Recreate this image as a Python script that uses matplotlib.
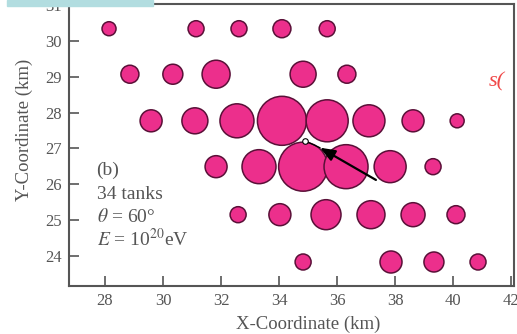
import matplotlib.pyplot as plt
from matplotlib.patches import Rectangle

# tank positions (km), grouped by row, and signal (relative circle size)
x_km = [28.14, 31.14, 32.62, 34.10, 35.66,
        28.86, 30.34, 31.83, 34.83, 36.34,
        29.59, 31.10, 32.55, 34.10, 35.66, 37.10, 38.62, 40.14,
        31.83, 33.31, 34.83, 36.31, 37.83, 39.31,
        32.59, 34.03, 35.62, 37.17, 38.62, 40.10,
        34.83, 37.86, 39.34, 40.86]
y_km = [30.34] * 5 + [29.07] * 5 + [27.77] * 8 + [26.49] * 6 + [25.15] * 6 + [23.83] * 4
signal = [7, 8, 8, 9, 8,
          9, 10, 14, 13, 9,
          11, 13, 17, 24.5, 21, 16, 11, 7,
          11, 17, 24.5, 22, 16, 8,
          8, 11, 15, 14, 12, 9,
          8, 11, 10, 8]

core = (34.90, 27.21)
arrow_tail = (37.34, 26.12)
arrow_tip = (35.41, 27.02)

xticks = [28, 30, 32, 34, 36, 38, 40, 42]
yticks = [24, 25, 26, 27, 28, 29, 30, 31]

plt.rcParams['font.family'] = ['Liberation Serif', 'DejaVu Serif']
plt.rcParams['mathtext.fontset'] = 'stix'
gray = '#555555'

fig = plt.figure(figsize=(5.17, 3.34), dpi=100)
ax = fig.add_axes([69 / 517, 1 - 286 / 334, 445 / 517, 282 / 334])

sizes = [(1.44 * s) ** 2 for s in signal]
ax.scatter(x_km, y_km, s=sizes, c='#ec2f8c', edgecolors='#5a1038', linewidths=1.1, zorder=2)

ax.annotate('', xy=arrow_tip, xytext=arrow_tail,
            arrowprops=dict(arrowstyle='-|>,head_length=0.9,head_width=0.35',
                            color='black', lw=1.6, shrinkA=0, shrinkB=0), zorder=4)
ax.plot([arrow_tip[0], core[0]], [arrow_tip[1], core[1]], color='black', lw=0.9, zorder=4)
ax.plot(*core, marker='o', ms=4, mfc='white', mec='black', mew=0.8, zorder=5)

ax.set_xlim(26.76, 42.10)
ax.set_ylim(23.16, 31.03)
ax.set_xticks(xticks)
ax.set_yticks(yticks)
ax.tick_params(direction='in', length=7, width=1.2, colors=gray, labelsize=12, pad=5)
for sp in ax.spines.values():
    sp.set_color(gray)
    sp.set_linewidth(1.5)

ax.set_xlabel('X-Coordinate (km)', fontsize=13.5, color=gray, labelpad=2)
ax.set_ylabel('Y-Coordinate (km)', fontsize=13.5, color=gray, labelpad=9)
ax.xaxis.set_label_coords(0.537, -0.105)
ax.yaxis.label.set_y(0.553)

txt = dict(transform=ax.transAxes, fontsize=14, color=gray, va='baseline', ha='left')
ax.text(0.062, 0.394, '(b)', **txt)
ax.text(0.062, 0.309, '34 tanks', **txt)
ax.text(0.062, 0.227, r'$\theta$ = 60°', **txt)
ax.text(0.062, 0.142, r'$E$ = 10$^{20}$eV', **txt)

fig.text(489 / 517, 1 - 86 / 334, 's(', color='#f04848', fontsize=16, style='italic')
fig.patches.append(Rectangle((7 / 517, 1 - 6 / 334), 146 / 517, 6 / 334,
                             transform=fig.transFigure, color='#b2dde0', zorder=10))

fig.savefig('out.png', dpi=100)
